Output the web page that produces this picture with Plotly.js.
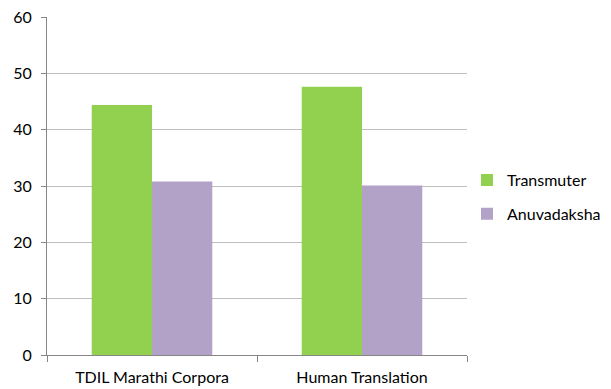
<!DOCTYPE html>
<html>
<head>
<meta charset="utf-8">
<script src="https://cdn.plot.ly/plotly-3.0.1.min.js"></script>
<style>html,body{margin:0;padding:0;background:#fff;}#chart{width:611px;height:389px;}</style>
</head>
<body>
<div id="chart"></div>
<script>
var categories = ["TDIL Marathi Corpora", "Human Translation"];
var transmuter = [44.4, 47.6];
var anuvadaksha = [30.8, 30.1];
var yTicks = [0, 10, 20, 30, 40, 50, 60];

var traces = [
  {type: "bar", name: "Transmuter", x: categories, y: transmuter,
   legendgroup: "a", marker: {color: "#92D050"}},
  {type: "bar", name: "Anuvadaksha", x: categories, y: anuvadaksha,
   legendgroup: "b", marker: {color: "#B3A2C7"}}
];

var layout = {
  width: 611, height: 389,
  margin: {l: 47, r: 144, t: 17, b: 34, autoexpand: false},
  paper_bgcolor: "#ffffff", plot_bgcolor: "#ffffff",
  font: {family: "Lato, 'Open Sans', sans-serif", size: 15, color: "#000"},
  barmode: "group",
  bargap: 0.426,
  bargroupgap: 0,
  showlegend: true,
  legend: {x: 1.0, y: 0.467, xanchor: "left", yanchor: "middle",
           font: {size: 16}, traceorder: "grouped", tracegroupgap: 10, itemwidth: 30},
  xaxis: {
    showline: true, linecolor: "#868686", linewidth: 1,
    ticks: "outside", tickson: "boundaries", ticklen: 6, tickcolor: "#868686",
    tickfont: {size: 16}, ticklabelstandoff: 8,
    showgrid: false, zeroline: false, fixedrange: true
  },
  yaxis: {
    range: [0, 60], tickvals: yTicks,
    showline: true, linecolor: "#868686", linewidth: 1,
    ticks: "outside", ticklen: 5, tickcolor: "#868686",
    tickfont: {size: 16},
    showgrid: true, gridcolor: "#BFBFBF", gridwidth: 1,
    zeroline: false, ticklabelstandoff: 6, fixedrange: true
  }
};

Plotly.newPlot("chart", traces, layout, {displayModeBar: false, staticPlot: true});
</script>
</body>
</html>
